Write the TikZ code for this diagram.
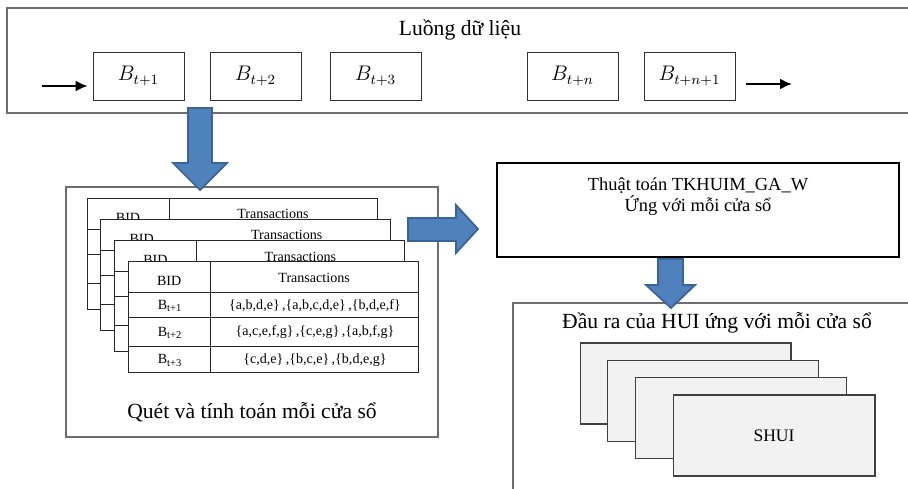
\documentclass[tikz,border=0pt]{standalone}
\usepackage{fontspec}
\setmainfont{Liberation Serif}
\usepackage{amsmath}
\usepackage{xcolor}
\usetikzlibrary{arrows.meta}
\definecolor{arrowblue}{HTML}{4F81BD}
\definecolor{arrowedge}{HTML}{3A6396}
\definecolor{framegray}{HTML}{6E6E6E}
\definecolor{sheetgray}{HTML}{F2F2F2}

\begin{document}
\begin{tikzpicture}[x=0.02cm, y=-0.02cm,
    frame/.style={draw=framegray, line width=0.7pt},
    blockbox/.style={draw=black!80, line width=0.5pt, minimum width=1.82cm, minimum height=0.96cm, inner sep=0pt, font=\fontsize{12}{14}\selectfont},
    flow/.style={line width=1.1pt, -{Latex[length=2.4mm,width=2.2mm]}},
    bigarrow/.style={fill=arrowblue, draw=arrowedge, line width=1pt, line join=miter},
    tablebox/.style={draw=black!85, line width=0.5pt},
    cell/.style={font=\fontsize{8}{9}\selectfont, inner sep=0pt},
    bigtext/.style={font=\fontsize{12.3}{14}\selectfont, inner sep=0pt},
    sheet/.style={draw=black!75, fill=sheetgray, line width=0.6pt, minimum width=4.22cm, minimum height=1.62cm}]
    \useasboundingbox (0,0) rectangle (908,488);

    % data stream
    \draw[frame] (915,8) -- (7,8) -- (7,113) -- (915,113);
    \node[bigtext] (stream) at (460,30) {Luồng dữ liệu};
    \node[blockbox] (B1) at (138.5,76) {$B_{t+1}$};
    \node[blockbox] (B2) at (255.5,76) {$B_{t+2}$};
    \node[blockbox] (B3) at (375.5,76) {$B_{t+3}$};
    \node[blockbox] (B4) at (572.5,76) {$B_{t+n}$};
    \node[blockbox] (B5) at (689.5,76) {$B_{t+n+1}$};
    \coordinate (streamin) at (42,86);
    \coordinate (streamout) at (792,84);
    \draw[flow, shorten >=0.1cm] (streamin) -- (streamin -| B1.west);
    \draw[flow, shorten <=0.22cm] (B5.east |- streamout) -- (streamout);

    % windows
    \node[frame, minimum width=7.44cm, minimum height=5cm] (scan) at (252,312) {};
    \foreach \k in {0,1,2,3}{
        \pgfmathsetmacro{\tx}{87+13.7*\k}
        \pgfmathsetmacro{\ty}{198+21.3*\k}
        \filldraw[tablebox, fill=white] (\tx,\ty) rectangle ++(290,111);
        \ifnum\k=1 \draw[tablebox] (\tx+82,\ty+31) -- ++(0,80);
        \else \draw[tablebox] (\tx+82,\ty) -- ++(0,111); \fi
        \draw[tablebox] (\tx,\ty+31) -- ++(290,0) (\tx,\ty+56) -- ++(290,0) (\tx,\ty+85) -- ++(290,0);
        \node[cell] (bid\k) at (\tx+41,\ty+19.5) {BID};
        \node[cell] (trans\k) at (\tx+186,\ty+16) {Transactions};
    }
    \node[cell] (row1) at (170,306) {B\textsubscript{t+1}};
    \node[cell] (set1) at (315,305.5) {\{a,b,d,e\}\,,\{a,b,c,d,e\}\,,\{b,d,e,f\}};
    \node[cell] (row2) at (170,333) {B\textsubscript{t+2}};
    \node[cell] (set2) at (315,332.5) {\{a,c,e,f,g\}\,,\{c,e,g\}\,,\{a,b,f,g\}};
    \node[cell] (row3) at (170,360.5) {B\textsubscript{t+3}};
    \node[cell] (set3) at (315,360) {\{c,d,e\}\,,\{b,c,e\}\,,\{b,d,e,g\}};
    \node[bigtext] (scantext) at (252,412) {Quét và tính toán mỗi cửa sổ};

    % algorithm
    \node[draw=black, line width=1.6pt, minimum width=8.04cm, minimum height=1.88cm] (algo) at (698,210) {};
    \node[font=\fontsize{10.5}{12}\selectfont, align=center, inner sep=0pt] (algotext) at (698,197) {Thuật toán TKHUIM\_GA\_W\\Ứng với mỗi cửa sổ};

    % output
    \draw[frame] (513,495) -- (513,303) -- (915,303);
    \node[bigtext] (output) at (717,323) {Đầu ra của HUI ứng với mỗi cửa sổ};
    \node[sheet] (sheet1) at (685.5,383.5) {};
    \node[sheet] (sheet2) at (713,401) {};
    \node[sheet] (sheet3) at (741,418) {};
    \node[sheet, minimum width=4.04cm, font=\fontsize{10}{12}\selectfont] (shui) at (774,435.5) {SHUI};

    % big arrows
    \filldraw[bigarrow] (188,108) -- (212,108) -- (212,163) -- (227,163) -- (200,190) -- (173,163) -- (188,163) -- cycle;
    \filldraw[bigarrow] (408,218) -- (456,218) -- (456,205) -- (478,229) -- (456,253) -- (456,241) -- (408,241) -- cycle;
    \filldraw[bigarrow] (658,259) -- (683,259) -- (683,285) -- (695,285) -- (671,308) -- (646,285) -- (658,285) -- cycle;
\end{tikzpicture}
\end{document}
